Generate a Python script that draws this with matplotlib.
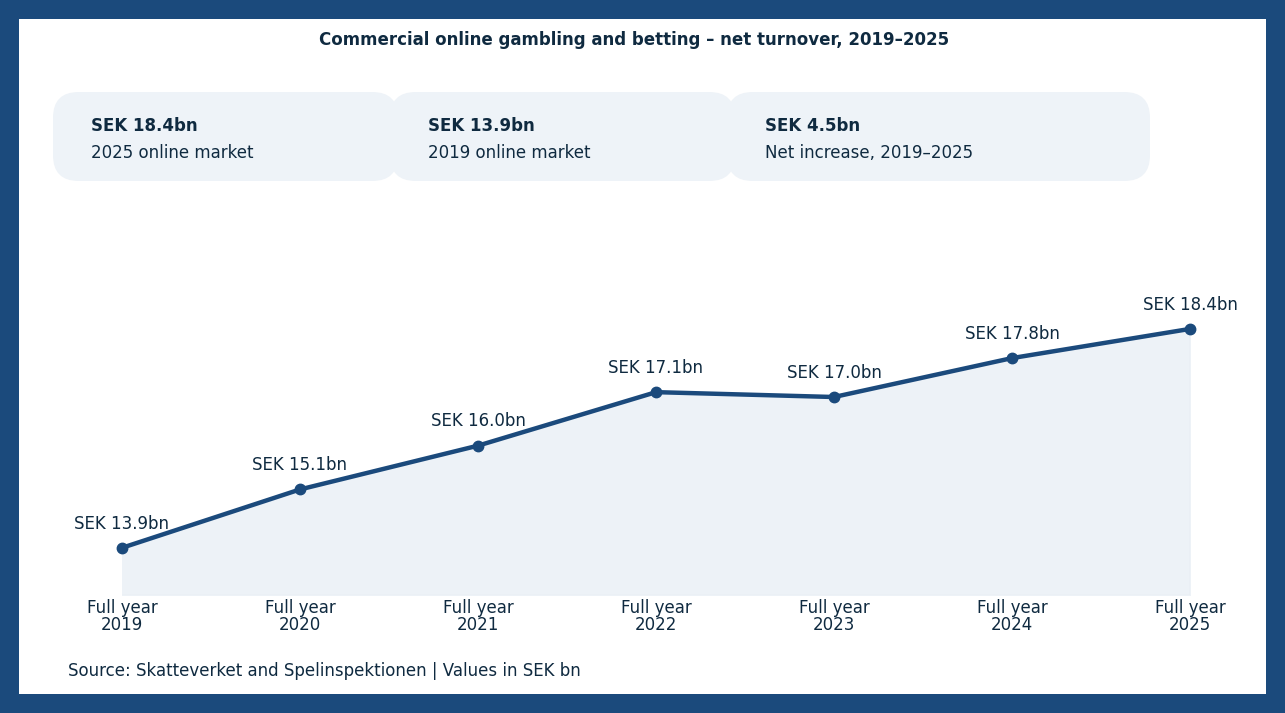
import matplotlib
matplotlib.use("Agg")
import matplotlib.pyplot as plt
from matplotlib.patches import FancyBboxPatch, Rectangle

years = ["2019", "2020", "2021", "2022", "2023", "2024", "2025"]
values = [13.9, 15.1, 16.0, 17.1, 17.0, 17.8, 18.4]
card_values = ["SEK 18.4bn", "SEK 13.9bn", "SEK 4.5bn"]
card_labels = ["2025 online market", "2019 online market", "Net increase, 2019–2025"]

W, H = 1285, 713
fig = plt.figure(figsize=(W/100, H/100), dpi=100)
fig.patch.set_facecolor("#1b4a7c")
fig.add_artist(Rectangle((19/W, 19/H), (W-38)/W, (H-38)/H, transform=fig.transFigure,
                         facecolor="white", edgecolor="none", zorder=0))
txt = "#0f2a40"
line_c = "#1b4a7c"

fig.text(634/W, 1-40/H, "Commercial online gambling and betting – net turnover, 2019–2025",
         ha="center", va="center", fontsize=12, fontweight="bold", color=txt)

cards = [(53, 398), (390, 735), (727, 1150)]
for (x0, x1), v, l in zip(cards, card_values, card_labels):
    fig.add_artist(FancyBboxPatch((x0/W, 1-181/H), (x1-x0)/W, 89/H,
                                  boxstyle="round,pad=0,rounding_size=0.02",
                                  transform=fig.transFigure, facecolor="#eef3f8",
                                  edgecolor="none", zorder=1, mutation_aspect=W/H))
    fig.text((x0+38)/W, 1-126/H, v, fontsize=12, fontweight="bold", color=txt, va="center")
    fig.text((x0+38)/W, 1-153/H, l, fontsize=12, color=txt, va="center")

ax = fig.add_axes([122/W, 1-595/H, (1190-122)/W, (595-200)/H])
ax.set_facecolor("none")
x = list(range(len(years)))
ymin = 12.93
ax.fill_between(x, values, ymin, color="#edf2f7", zorder=1)
ax.plot([6, 6], [ymin, values[-1]], color="#e0e6ee", lw=1)
ax.plot([0, 6], [ymin, ymin], color="#e6ebf1", lw=1)
ax.plot(x, values, color=line_c, lw=3.2, marker="o", ms=7.5, zorder=3, clip_on=False)
for xi, v in zip(x, values):
    ax.annotate(f"SEK {v:.1f}bn", (xi, v), xytext=(0, 11), textcoords="offset points",
                ha="center", va="bottom", fontsize=12, color=txt)
ax.set_xlim(0, 6)
ax.set_ylim(ymin, 21.05)
ax.set_xticks(x)
ax.set_xticklabels([f"Full year\n{y}" for y in years], fontsize=12, color=txt, linespacing=0.95)
ax.tick_params(axis="x", length=0, pad=3)
ax.set_yticks([])
for s in ax.spines.values():
    s.set_visible(False)

fig.text(68/W, 1-671/H, "Source: Skatteverket and Spelinspektionen | Values in SEK bn",
         fontsize=12, color=txt, va="center")
fig.savefig("out.png", dpi=100, facecolor=fig.get_facecolor())
